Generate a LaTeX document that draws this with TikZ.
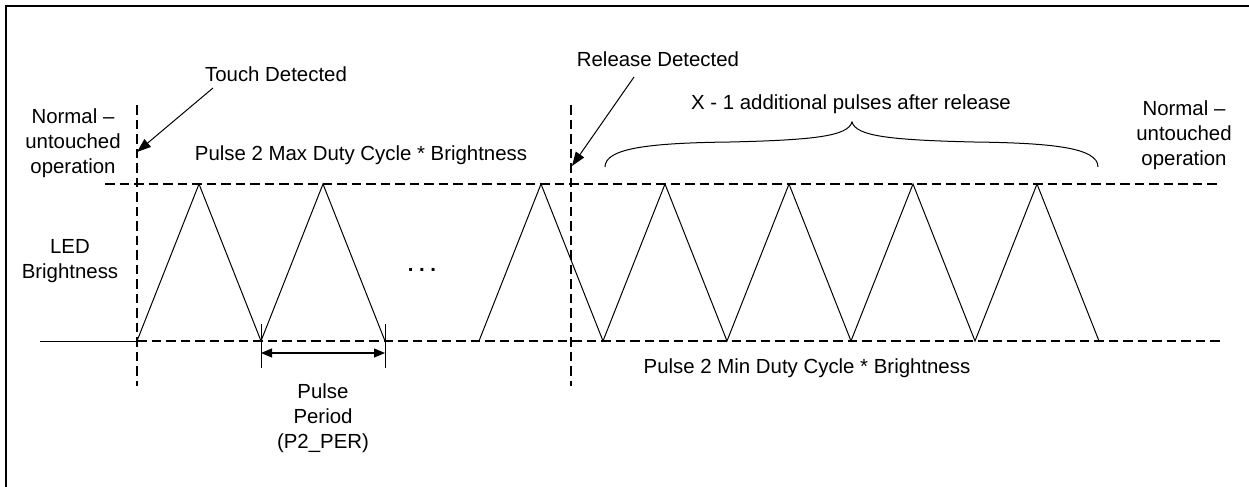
\documentclass[tikz,border=0pt]{standalone}
\usepackage{fontspec}
\setmainfont{Liberation Sans}
\usetikzlibrary{arrows.meta,positioning}

\begin{document}
\begin{tikzpicture}[x=0.5pt,y=-0.5pt,
    every node/.style={font=\fontsize{10.2pt}{12.6pt}\selectfont,inner sep=0pt,align=center},
    border/.style={line width=1.1pt},
    levelline/.style={line width=1.2pt,dash pattern=on 4.75pt off 2.5pt},
    wave/.style={line width=0.5pt},
    pointer/.style={line width=0.5pt,-{Triangle[length=7pt,width=5pt]}},
    periodarrow/.style={line width=0.6pt,{Triangle[length=5.5pt,width=4.5pt]}-{Triangle[length=5.5pt,width=4.5pt]}}]
  \useasboundingbox (0,0) rectangle (1249,487);
  \draw[border] (6,487) |- (1249,6);

  % levels and detection lines
  \coordinate (MaxL) at (105,184);  \coordinate (MaxR) at (1218,184);
  \coordinate (MinL) at (137,341);  \coordinate (MinR) at (1220,341);
  \coordinate (Idle) at (40,341);
  \coordinate (TouchTop) at (137,105);   \coordinate (TouchBot) at (137,386);
  \coordinate (RelTop) at (571,105);     \coordinate (RelBot) at (571,386);
  \draw[levelline] (MaxL) -- (MaxR);
  \draw[levelline] (MinL) -- (MinR);
  \draw[levelline] (TouchTop) -- (TouchBot);
  \draw[levelline] (RelTop) -- (RelBot);
  \draw[wave] (Idle) -- (MinL);

  % pulses
  \draw[wave] (MinL) -- (199,184) -- (261,341) -- (323,184) -- (385,341);
  \draw[wave] (479,341) -- (541,184) -- (603,341) -- (665,184) -- (727,341)
        -- (789,184) -- (851,341) -- (913,184) -- (975,341) -- (1037,184) -- (1099,341);
  \node[anchor=base,font=\fontsize{10.2pt}{12.6pt}\selectfont\bfseries] (Dots) at (422,271) {.\ .\ .};

  % period
  \coordinate (PerL) at (261,353);  \coordinate (PerR) at (385,353);
  \draw[wave] (261,324) -- (261,368);
  \draw[wave] (385,324) -- (385,368);
  \draw[periodarrow] (PerL) -- (PerR);
  \node[anchor=north] (Period) at (323,383) {Pulse\\Period\\(P2\_PER)};

  % labels
  \node[anchor=north] (NormalL) at (73,108) {Normal –\\untouched\\operation};
  \node[anchor=north] (NormalR) at (1184,100) {Normal –\\untouched\\operation};
  \node[anchor=north] (Led) at (70,239) {LED\\Brightness};
  \node[anchor=base] (Touch) at (276,82) {Touch Detected};
  \node[anchor=base] (Release) at (658,66) {Release Detected};
  \node[anchor=base] (MaxText) at (361,160) {Pulse 2 Max Duty Cycle * Brightness};
  \node[anchor=base] (MinText) at (807,373) {Pulse 2 Min Duty Cycle * Brightness};
  \node[anchor=base] (Extra) at (851,109) {X - 1 additional pulses after release};

  % pointers
  \coordinate (TouchTail) at (213,88);    \coordinate (TouchHit) at (137,152);
  \coordinate (RelTail) at (634,77);      \coordinate (RelHit) at (572,166);
  \draw[pointer] (TouchTail) -- (TouchHit);
  \draw[pointer] (RelTail) -- (RelHit);

  % brace over the extra pulses
  \coordinate (BraceL) at (605,167);  \coordinate (BraceTip) at (852,122);  \coordinate (BraceR) at (1098,167);
  \draw[wave] (BraceL) .. controls (605,148) and (650,143) .. (730,142)
        .. controls (815,140) and (848,136) .. (BraceTip)
        .. controls (856,136) and (889,140) .. (974,142)
        .. controls (1054,143) and (1098,148) .. (BraceR);
\end{tikzpicture}
\end{document}
